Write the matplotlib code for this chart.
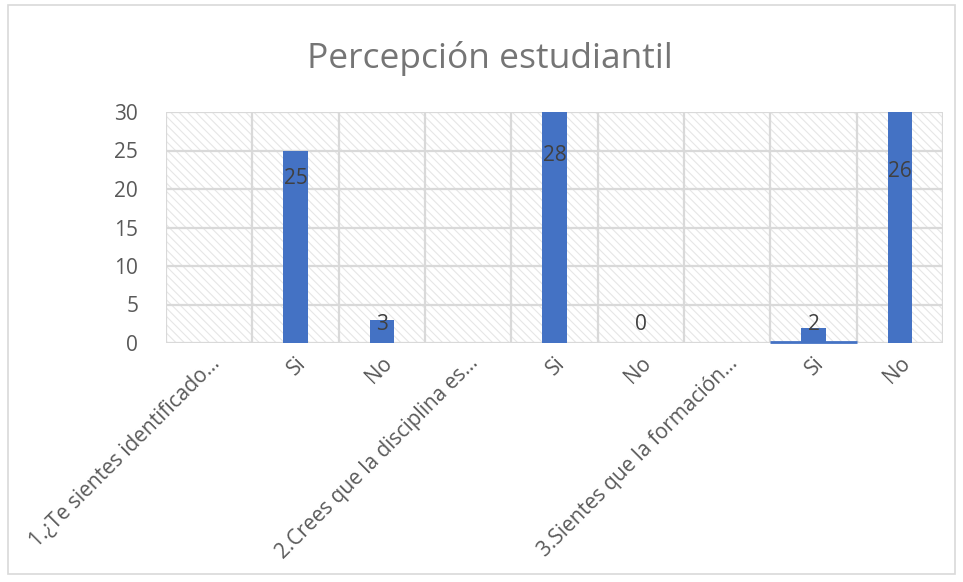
import matplotlib
matplotlib.use("Agg")
import matplotlib.pyplot as plt
from matplotlib.patches import Rectangle
import numpy as np

plt.rcParams['font.family'] = ['Open Sans', 'DejaVu Sans']
plt.rcParams['hatch.linewidth'] = 0.8

title = "Percepción estudiantil"
categories = ["1.¿Te sientes identificado…", "Si", "No",
              "2.Crees que la disciplina es…", "Si", "No",
              "3.Sientes que la formación…", "Si", "No"]
# data-label values (None = no value)
label_values = [None, 25, 3, None, 28, 0, None, 2, 26]
# bar heights as drawn (the 28 and 26 bars run past the 30 axis maximum)
bar_heights = [0, 25, 3, 0, 31, 0, 0, 2, 31]
selected_category = 7
yticks = [0, 5, 10, 15, 20, 25, 30]

bar_color = "#4472C4"
grid_color = "#d9d9d9"
text_color = "#595959"

fig = plt.figure(figsize=(9.63, 5.82), dpi=100)
# outer chart border
fig.add_artist(Rectangle((8 / 963, 1 - 574 / 582), 947 / 963, 569 / 582,
                         transform=fig.transFigure, fill=False,
                         edgecolor=grid_color, linewidth=1.2))

ax = fig.add_axes([166 / 963, 239 / 582, 777 / 963, 231 / 582])
n = len(categories)
x = np.arange(n)
ax.set_xlim(-0.5, n - 0.5)
ax.set_ylim(0, 30)

# hatched plot-area background
ax.add_patch(Rectangle((0, 0), 1, 1, transform=ax.transAxes, facecolor="white",
                       hatch="\\\\\\\\", edgecolor="#e6e6e6", linewidth=0, zorder=0))

# gridlines
for yv in yticks:
    ax.axhline(yv, color=grid_color, lw=1.6, zorder=1)
for b in np.arange(-0.5, n, 1.0):
    ax.axvline(b, color=grid_color, lw=1.6, zorder=1)

ax.bar(x, bar_heights, width=0.28, color=bar_color, zorder=2, clip_on=True)
ax.hlines(0.08, selected_category - 0.5, selected_category + 0.5,
          color=bar_color, lw=2, zorder=3, clip_on=False)

for i, v in enumerate(label_values):
    if v is None:
        continue
    y = max(v - 3.7, 2.4)
    ax.text(i, y, str(v), ha="center", va="center", fontsize=15,
            color="#404040", zorder=4)

for s in ax.spines.values():
    s.set_visible(False)

ax.set_yticks(yticks)
ax.set_yticklabels([str(t) for t in yticks], fontsize=15, color=text_color)
ax.tick_params(axis="y", length=0, pad=20)
ax.set_xticks(x)
ax.set_xticklabels(categories, rotation=45, ha="right", va="top",
                   rotation_mode="anchor", fontsize=15, color=text_color)
ax.tick_params(axis="x", length=0, pad=7)

fig.text(490 / 963, 1 - 58 / 582, title, ha="center", va="center",
         fontsize=25.5, color="#757575")

fig.savefig("out.png", dpi=100)
